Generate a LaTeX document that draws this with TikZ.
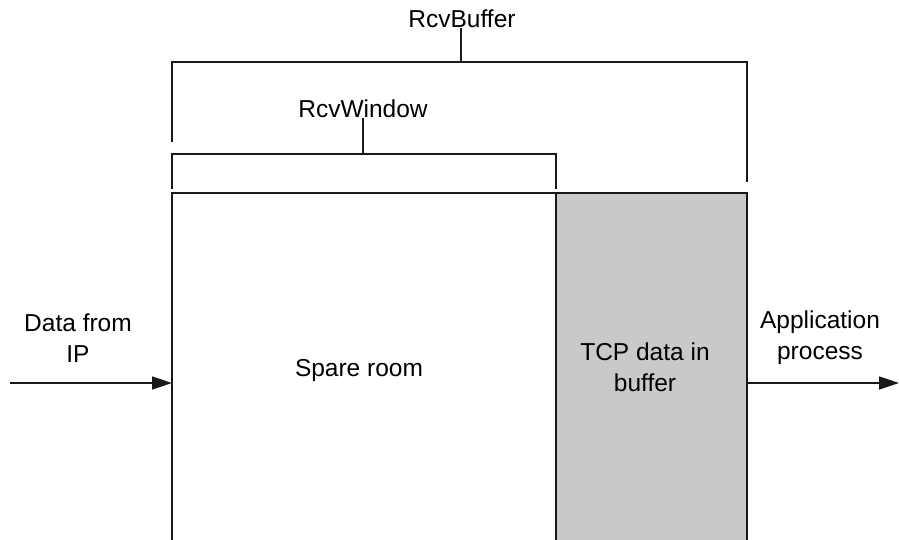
\documentclass[tikz,border=0pt]{standalone}
\usepackage{fontspec}
\setmainfont{Liberation Sans}
\usetikzlibrary{arrows.meta}
\definecolor{bufgray}{RGB}{200,201,203}

\begin{document}
\begin{tikzpicture}[x=1pt, y=-1pt,
	every node/.style={font=\fontsize{24.5}{31}\selectfont, align=center, inner sep=0pt},
	edge/.style={line width=1.6pt, black!90},
	flow/.style={edge, -{Triangle[length=20pt, width=13pt]}}]
	\useasboundingbox (0,0) rectangle (899,540);
	\clip (0,0) rectangle (899,540);
	\fill[bufgray] (556,193) rectangle (747,560);
	\draw[edge] (172,560) -- (172,193) -- (747,193) -- (747,560);
	\draw[edge] (556,193) -- (556,560);
	\node[anchor=base] (rcvbuf) at (462,28) {RcvBuffer};
	\draw[edge] (172,142) -- (172,62) -- (747,62) -- (747,182);
	\draw[edge] (rcvbuf.south -| 461,62) -- (461,62);
	\node[anchor=base] (rcvwin) at (363,118) {RcvWindow};
	\draw[edge] (172,189) -- (172,154) -- (556,154) -- (556,189);
	\draw[edge] (rcvwin.south) -- (363,154);
	\node[anchor=base] (spare) at (359,376) {Spare room};
	\node (tcpdata) at (645,367) {TCP data in\\buffer};
	\node (datain) at (78,338) {Data from\\IP};
	\node (appproc) at (820,338) {Application\\process};
	\coordinate (ipsrc) at (10,383);
	\coordinate (boxin) at (172,383);
	\coordinate (boxout) at (747,383);
	\coordinate (appdst) at (899,383);
	\draw[flow] (ipsrc) -- (boxin);
	\draw[flow] (boxout) -- (appdst);
\end{tikzpicture}
\end{document}
